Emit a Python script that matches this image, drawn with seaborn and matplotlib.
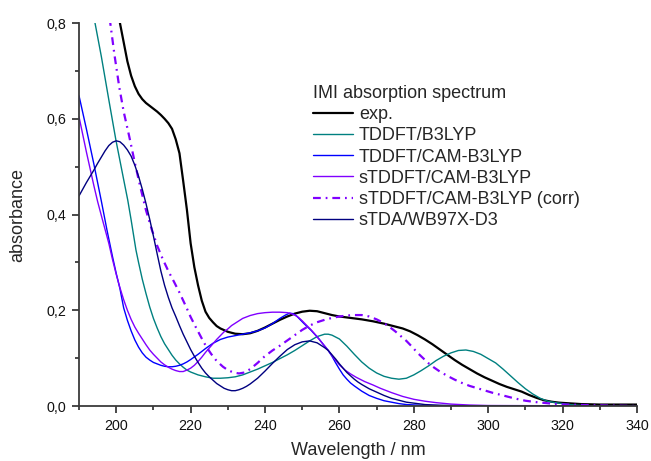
import matplotlib
matplotlib.use("Agg")
import matplotlib.pyplot as plt
from matplotlib.ticker import FixedLocator
import seaborn as sns

# ---------------- data ----------------
exp_x = [190, 195, 198, 200, 201, 202, 203, 204, 205, 206, 207, 208, 209, 210, 211, 212, 213, 214, 215,
         216, 217, 218, 219, 220, 221, 222, 223, 224, 225, 226, 227, 228, 230, 232, 234, 236, 238, 240,
         242, 244, 246, 248, 250, 252, 254, 256, 258, 260, 263, 266, 269, 272, 275, 277, 279, 281, 283,
         285, 287, 289, 291, 293, 295, 297, 299, 301, 303, 305, 307, 309, 311, 313, 315, 317, 319, 321,
         325, 330, 340]
exp_y = [1.3, 1.02, 0.9, 0.83, 0.80, 0.76, 0.72, 0.69, 0.668, 0.652, 0.641, 0.633, 0.627, 0.621, 0.615,
         0.608, 0.600, 0.591, 0.579, 0.557, 0.528, 0.47, 0.41, 0.34, 0.29, 0.252, 0.22, 0.197, 0.184,
         0.175, 0.167, 0.162, 0.155, 0.151, 0.150, 0.152, 0.157, 0.164, 0.172, 0.18, 0.187, 0.193, 0.197,
         0.199, 0.198, 0.194, 0.19, 0.187, 0.184, 0.181, 0.177, 0.172, 0.166, 0.162, 0.156, 0.148, 0.139,
         0.129, 0.118, 0.107, 0.096, 0.086, 0.077, 0.068, 0.06, 0.053, 0.046, 0.04, 0.035, 0.030, 0.023,
         0.017, 0.012, 0.009, 0.007, 0.006, 0.004, 0.003, 0.003]

b3lyp_x = [190, 192, 194.3, 196, 198, 199.9, 202, 203.1, 204, 205.3, 206, 207, 208, 209, 210, 211, 212,
           213, 214, 215, 216, 217, 218, 219, 220, 222, 224, 226, 228, 230, 232, 234, 236, 238, 240, 242,
           244, 246, 248, 250, 252, 254, 256, 257, 258, 260, 262, 264, 266, 268, 270, 272, 274, 276, 278,
           280, 282, 284, 286, 288, 290, 292, 294, 296, 298, 300, 302, 304, 306, 308, 310, 312, 314, 316,
           318, 320, 323, 326, 330, 340]
b3lyp_y = [0.98, 0.89, 0.80, 0.73, 0.64, 0.556, 0.473, 0.43, 0.389, 0.326, 0.30, 0.265, 0.235, 0.207,
           0.183, 0.163, 0.145, 0.13, 0.118, 0.106, 0.096, 0.088, 0.081, 0.075, 0.071, 0.065, 0.061, 0.058,
           0.058, 0.059, 0.061, 0.065, 0.071, 0.077, 0.084, 0.091, 0.099, 0.107, 0.116, 0.126, 0.136, 0.145,
           0.15, 0.15, 0.148, 0.14, 0.125, 0.108, 0.092, 0.079, 0.069, 0.062, 0.058, 0.056, 0.058, 0.065,
           0.074, 0.084, 0.095, 0.104, 0.111, 0.116, 0.117, 0.114, 0.108, 0.099, 0.09, 0.077, 0.063, 0.049,
           0.036, 0.025, 0.016, 0.01, 0.007, 0.005, 0.002, 0.001, 0.0, 0.0]

cam_x = [190, 192, 194, 196, 197.5, 199, 200, 201, 202, 203, 204, 205, 206, 207, 208, 209, 210, 211,
         212, 213, 214, 215, 216, 217, 218, 219, 220, 222, 224, 226, 228, 230, 232, 234, 236, 238, 240,
         242, 244, 245.5, 246.6, 247.5, 248.5, 249.5, 250.5, 252.4, 254.5, 256.9, 258, 259, 260, 261,
         262, 263, 264, 266, 268, 270, 272, 274, 276, 278, 282, 286, 300, 340]
cam_y = [0.648, 0.578, 0.505, 0.428, 0.368, 0.312, 0.277, 0.245, 0.205, 0.179, 0.157, 0.138, 0.123,
         0.111, 0.102, 0.096, 0.091, 0.088, 0.085, 0.083, 0.082, 0.082, 0.083, 0.085, 0.088, 0.092,
         0.097, 0.108, 0.12, 0.131, 0.139, 0.144, 0.147, 0.15, 0.153, 0.157, 0.163, 0.172, 0.183, 0.19,
         0.194, 0.193, 0.188, 0.18, 0.172, 0.158, 0.14, 0.117, 0.104, 0.09, 0.077, 0.065, 0.056, 0.048,
         0.042, 0.031, 0.022, 0.016, 0.011, 0.008, 0.005, 0.003, 0.0015, 0.001, 0.0, 0.0]

scam_x = [190, 192, 194, 195, 196.3, 198, 199, 200, 201, 202, 203, 204, 205, 206, 207, 208, 209, 210,
          211, 212, 213, 214, 215, 216, 217, 218, 219, 220, 221, 222, 223, 224, 225, 226, 227, 228, 229,
          230, 231, 232, 233, 234, 236, 238, 240, 242, 244, 246, 247, 248, 249, 250, 251, 252.4, 254,
          255.5, 257, 258.5, 260, 261.5, 263, 264.5, 266.8, 269, 271, 274, 277, 280, 283, 286, 290, 295,
          300, 340]
scam_y = [0.604, 0.53, 0.46, 0.427, 0.389, 0.34, 0.306, 0.275, 0.247, 0.222, 0.2, 0.181, 0.165, 0.152,
          0.14, 0.128, 0.117, 0.108, 0.1, 0.092, 0.086, 0.081, 0.077, 0.074, 0.072, 0.072, 0.075, 0.079,
          0.085, 0.093, 0.102, 0.112, 0.121, 0.13, 0.139, 0.147, 0.155, 0.161, 0.168, 0.173, 0.178, 0.183,
          0.189, 0.193, 0.195, 0.196, 0.196, 0.195, 0.193, 0.19, 0.185, 0.178, 0.17, 0.159, 0.145, 0.13,
          0.116, 0.1, 0.086, 0.075, 0.067, 0.06, 0.051, 0.044, 0.037, 0.028, 0.02, 0.014, 0.01, 0.007,
          0.004, 0.002, 0.001, 0.0]

corr_x = [190, 195, 198.4, 199.5, 200.8, 202, 203.5, 205, 206.5, 208, 209.5, 211, 212.5, 214, 215.5,
          217, 218.8, 220, 221.5, 223, 224.2, 225.5, 227, 228.7, 230, 231.5, 233, 234.5, 236, 238, 239.8,
          242, 244, 246, 248, 250, 252, 254, 256, 258, 260, 262, 264, 266, 268, 270, 272, 273.5, 275,
          276.5, 278, 279.5, 281, 282.5, 284, 285.5, 287, 289, 291, 293, 295, 298, 301, 304, 307, 310,
          313, 317, 321, 326, 332, 340]
corr_y = [1.25, 0.98, 0.80, 0.735, 0.667, 0.615, 0.563, 0.508, 0.457, 0.409, 0.37, 0.335, 0.307, 0.282,
          0.26, 0.237, 0.207, 0.186, 0.163, 0.141, 0.124, 0.109, 0.094, 0.082, 0.075, 0.07, 0.068, 0.07,
          0.077, 0.09, 0.103, 0.116, 0.126, 0.137, 0.148, 0.159, 0.168, 0.175, 0.18, 0.184, 0.187, 0.189,
          0.19, 0.19, 0.187, 0.181, 0.173, 0.165, 0.156, 0.146, 0.136, 0.124, 0.111, 0.1, 0.089, 0.08,
          0.072, 0.063, 0.055, 0.048, 0.042, 0.035, 0.028, 0.022, 0.016, 0.011, 0.008, 0.005, 0.003,
          0.002, 0.001, 0.0]

stda_x = [190, 191, 192, 193, 194, 195, 196, 197, 198, 199, 200, 201, 202, 203, 204, 205, 206, 207, 208,
          209, 210, 211, 212, 213, 214, 215, 216, 217, 218, 219, 220, 221, 222, 223, 224, 225, 226, 227,
          228, 229, 230, 231, 232, 233, 234, 235, 236, 238, 240, 242, 244, 246, 248, 250, 252, 254, 256,
          257, 258, 259, 260, 261, 262, 263, 264, 265, 266, 268, 270, 272, 274, 276, 278, 280, 283, 287,
          292, 340]
stda_y = [0.439, 0.453, 0.467, 0.48, 0.493, 0.507, 0.52, 0.533, 0.544, 0.551, 0.554, 0.552, 0.545, 0.535,
          0.522, 0.503, 0.48, 0.453, 0.423, 0.39, 0.355, 0.318, 0.282, 0.252, 0.227, 0.205, 0.187, 0.168,
          0.15, 0.134, 0.118, 0.104, 0.091, 0.079, 0.069, 0.061, 0.054, 0.047, 0.042, 0.037, 0.034, 0.032,
          0.032, 0.034, 0.037, 0.041, 0.046, 0.058, 0.073, 0.089, 0.104, 0.118, 0.128, 0.134, 0.136,
          0.132, 0.122, 0.116, 0.107, 0.098, 0.088, 0.079, 0.07, 0.063, 0.056, 0.05, 0.045, 0.036, 0.029,
          0.022, 0.016, 0.012, 0.008, 0.006, 0.003, 0.0015, 0.0005, 0.0]

labels = ["exp.", "TDDFT/B3LYP", "TDDFT/CAM-B3LYP", "sTDDFT/CAM-B3LYP",
          "sTDDFT/CAM-B3LYP (corr)", "sTDA/WB97X-D3"]
legend_title = "IMI absorption spectrum"
x_label = "Wavelength / nm"
y_label = "absorbance"
x_ticks = [200, 220, 240, 260, 280, 300, 320, 340]
x_minor = [190, 210, 230, 250, 270, 290, 310, 330]
y_ticks = [0.0, 0.2, 0.4, 0.6, 0.8]
y_minor = [0.1, 0.3, 0.5, 0.7]
y_tick_labels = ["0,0", "0,2", "0,4", "0,6", "0,8"]

# ---------------- style ----------------
sns.set_style("ticks")
plt.rcParams["font.family"] = ["Liberation Sans", "DejaVu Sans"]
plt.rcParams.update({
    "xtick.bottom": True, "ytick.left": True,
    "xtick.direction": "out", "ytick.direction": "out",
    "xtick.major.size": 5, "ytick.major.size": 5,
    "xtick.minor.size": 2.8, "ytick.minor.size": 2.8,
    "xtick.major.width": 1.2, "ytick.major.width": 1.2,
    "xtick.minor.width": 1.2, "ytick.minor.width": 1.2,
    "xtick.color": "#2a2a2a", "ytick.color": "#2a2a2a",
    "xtick.labelcolor": "#111111", "ytick.labelcolor": "#111111",
})

fig = plt.figure(figsize=(6.51, 4.61), dpi=100)
ax = fig.add_axes([0.1214, 0.1193, 0.9785 - 0.1214, 0.950 - 0.1193])

series = [
    (exp_x, exp_y, labels[0], "#000000", 1.6, "-"),
    (b3lyp_x, b3lyp_y, labels[1], "#008080", 1.0, "-"),
    (cam_x, cam_y, labels[2], "#0000FF", 1.0, "-"),
    (scam_x, scam_y, labels[3], "#8000FF", 1.0, "-"),
    (corr_x, corr_y, labels[4], "#8000FF", 1.6, (0, (3.5, 2.2, 0.8, 2.2))),
    (stda_x, stda_y, labels[5], "#000080", 1.0, "-"),
]
for xs, ys, lab, col, lw, ls in series:
    sns.lineplot(x=xs, y=ys, ax=ax, color=col, lw=lw, linestyle=ls, label=lab,
                 sort=False, estimator=None)

ax.set_xlim(190, 340)
ax.set_ylim(0, 0.8)
ax.xaxis.set_major_locator(FixedLocator(x_ticks))
ax.xaxis.set_minor_locator(FixedLocator(x_minor))
ax.yaxis.set_major_locator(FixedLocator(y_ticks))
ax.yaxis.set_minor_locator(FixedLocator(y_minor))
ax.set_yticklabels(y_tick_labels)

for side in ["top", "right"]:
    ax.spines[side].set_visible(False)
for side in ["left", "bottom"]:
    ax.spines[side].set_color("#3a3a3a")
    ax.spines[side].set_linewidth(1.3)

ax.tick_params(axis="both", which="both", bottom=True, left=True, top=False, right=False,
               direction="out", color="#2a2a2a")
ax.tick_params(axis="both", which="major", length=5, width=1.2, labelsize=10.3)
ax.tick_params(axis="x", which="major", pad=4.5)
ax.tick_params(axis="y", which="major", pad=4.0)
ax.tick_params(axis="both", which="minor", length=2.8, width=1.2)

ax.set_xlabel(x_label, fontsize=13)
ax.set_ylabel(y_label, fontsize=13)
ax.xaxis.set_label_coords(0.5, -0.095)
ax.yaxis.set_label_coords(-0.095, 0.5)

leg = ax.legend(title=legend_title, loc="upper left", bbox_to_anchor=(0.42, 0.838),
                frameon=False, fontsize=13, title_fontsize=13, handlelength=2.2,
                handletextpad=0.32, labelspacing=0.23, borderpad=0.0, borderaxespad=0.0,
                alignment="left")

fig.savefig("out.png", dpi=100)
